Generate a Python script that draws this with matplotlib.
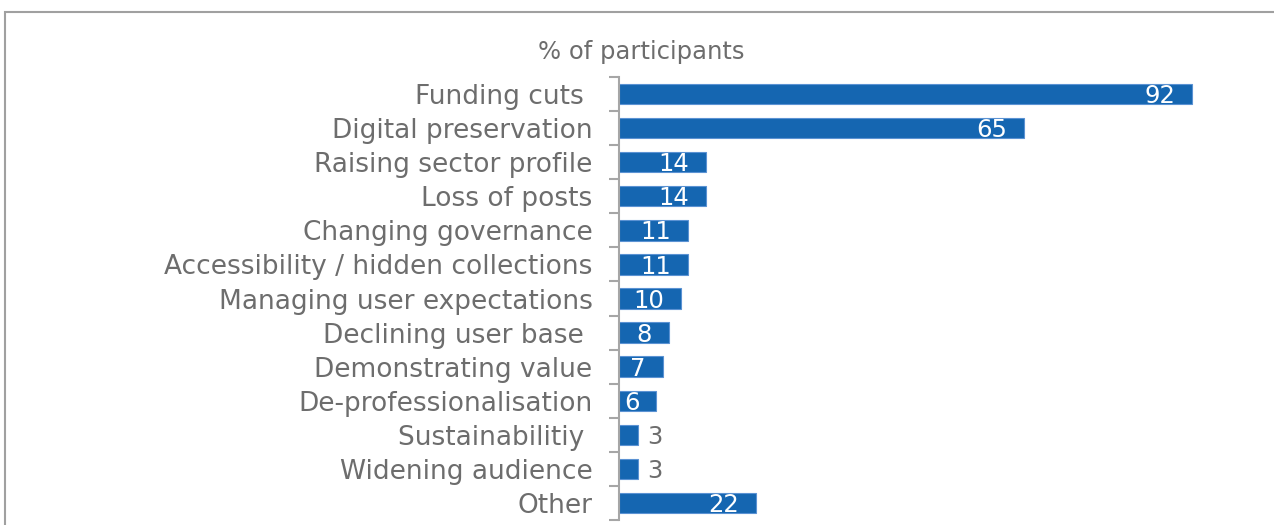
import matplotlib.pyplot as plt
from matplotlib.patches import Rectangle

plt.rcParams['font.family'] = ['DejaVu Sans']

# issues raised by participants (%)
issues = ['Funding cuts ', 'Digital preservation', 'Raising sector profile',
          'Loss of posts', 'Changing governance',
          'Accessibility / hidden collections', 'Managing user expectations',
          'Declining user base ', 'Demonstrating value',
          'De-professionalisation', 'Sustainabilitiy ', 'Widening audience',
          'Other']
pct = [92, 65, 14, 14, 11, 11, 10, 8, 7, 6, 3, 3, 22]

bar_col = '#1566b1'
txt_col = '#6d6d6d'
axis_col = '#a6a6a6'

fig = plt.figure(figsize=(12.74, 5.25), dpi=100)
ax = fig.add_axes([619/1274, 5/525, 1 - 619/1274 - 32/1274, 443/525])

pos = list(range(len(issues)))
ax.barh(pos, pct, height=0.6, color=bar_col, edgecolor='#5b92d3', linewidth=0.8)
ax.set_ylim(len(issues) - 0.5, -0.5)
ax.set_xlim(0, 100)

# category boundaries as ticks, names at centres
ax.set_yticks([p - 0.5 for p in pos] + [len(issues) - 0.5])
ax.set_yticks(pos, minor=True)
ax.set_yticklabels([])
ax.set_yticklabels(issues, minor=True, fontsize=19, color=txt_col)
ax.tick_params(axis='y', which='major', length=7, width=1.5, color=axis_col, direction='out')
ax.tick_params(axis='y', which='minor', length=0, pad=19)
ax.set_xticks([])
for s in ['top', 'right', 'bottom']:
    ax.spines[s].set_visible(False)
ax.spines['left'].set_color(axis_col)
ax.spines['left'].set_linewidth(1.5)

for p, v in zip(pos, pct):
    if v >= 5:
        ax.annotate(str(v), (v, p), xytext=(-12, -1.5), textcoords='offset points',
                    ha='right', va='center', color='white', fontsize=17.5)
    else:
        ax.annotate(str(v), (v, p), xytext=(7, -1.5), textcoords='offset points',
                    ha='left', va='center', color=txt_col, fontsize=17.5)

fig.text(641/1274, 1 - 52/525, '% of participants', ha='center', va='center',
         fontsize=17.5, color=txt_col)

# outer frame (runs off the right and bottom edges)
fig.add_artist(Rectangle((5/1274, -0.2), 1.2, 1.2 - 12/525,
                         transform=fig.transFigure, fill=False,
                         edgecolor='#a0a0a0', linewidth=1.5))

fig.savefig('out.png', dpi=100)
